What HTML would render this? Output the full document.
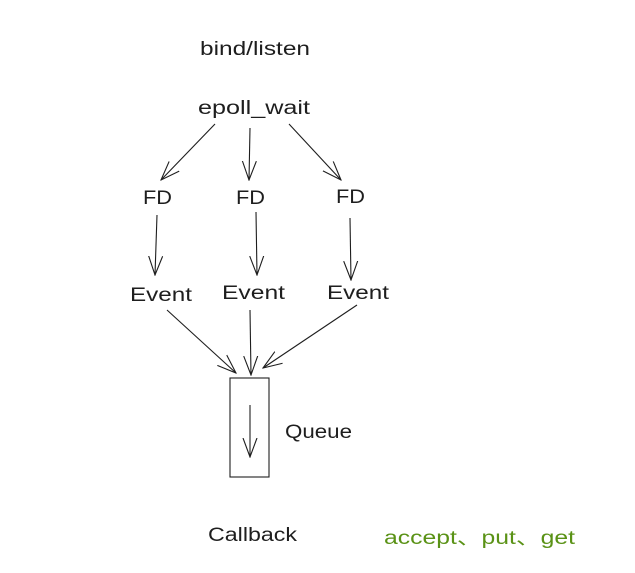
<!DOCTYPE html>
<html><head><meta charset="utf-8"><style>
html,body{margin:0;padding:0;background:#fff;}
svg{display:block;}
text{font-family:"Liberation Sans","Noto Sans CJK SC",sans-serif;font-size:19px;fill:#1e1e1e;}
</style></head><body>
<svg width="635" height="573" viewBox="0 0 635 573" xmlns="http://www.w3.org/2000/svg">
<defs>
<marker id="b" viewBox="0 0 20 20" refX="19" refY="10" markerWidth="20" markerHeight="20" markerUnits="userSpaceOnUse" orient="auto">
<path d="M0,3 L19,10 L0,17" fill="none" stroke="#1e1e1e" stroke-width="1.1"/>
</marker>
</defs>
<text x="200" y="55" textLength="110" lengthAdjust="spacingAndGlyphs">bind/listen</text>
<text x="198" y="114" textLength="112" lengthAdjust="spacingAndGlyphs">epoll_wait</text>
<text x="143" y="204" textLength="29" lengthAdjust="spacingAndGlyphs">FD</text>
<text x="236" y="204" textLength="29" lengthAdjust="spacingAndGlyphs">FD</text>
<text x="336" y="203" textLength="29" lengthAdjust="spacingAndGlyphs">FD</text>
<text x="130" y="301" textLength="62" lengthAdjust="spacingAndGlyphs">Event</text>
<text x="222" y="299" textLength="63" lengthAdjust="spacingAndGlyphs">Event</text>
<text x="327" y="299" textLength="62" lengthAdjust="spacingAndGlyphs">Event</text>
<text x="285" y="438" textLength="67" lengthAdjust="spacingAndGlyphs">Queue</text>
<text x="208" y="541" textLength="89" lengthAdjust="spacingAndGlyphs">Callback</text>
<text x="384" y="544" textLength="191" lengthAdjust="spacingAndGlyphs" style="fill:#5a9216">accept、put、get</text>
<g stroke="#1e1e1e" stroke-width="1.1" fill="none">
<line x1="215" y1="124" x2="161" y2="180" marker-end="url(#b)"/>
<line x1="250" y1="128" x2="249" y2="180" marker-end="url(#b)"/>
<line x1="289" y1="124" x2="341" y2="180" marker-end="url(#b)"/>
<line x1="157" y1="215" x2="155" y2="275" marker-end="url(#b)"/>
<line x1="256" y1="212" x2="257" y2="275" marker-end="url(#b)"/>
<line x1="350" y1="218" x2="351" y2="280" marker-end="url(#b)"/>
<line x1="167" y1="310" x2="236" y2="373" marker-end="url(#b)"/>
<line x1="250" y1="310" x2="251" y2="375" marker-end="url(#b)"/>
<line x1="357" y1="305" x2="263" y2="368" marker-end="url(#b)"/>
<rect x="230" y="378" width="39" height="99"/>
<line x1="250" y1="405" x2="250" y2="457" marker-end="url(#b)"/>
</g>
</svg>
</body></html>
